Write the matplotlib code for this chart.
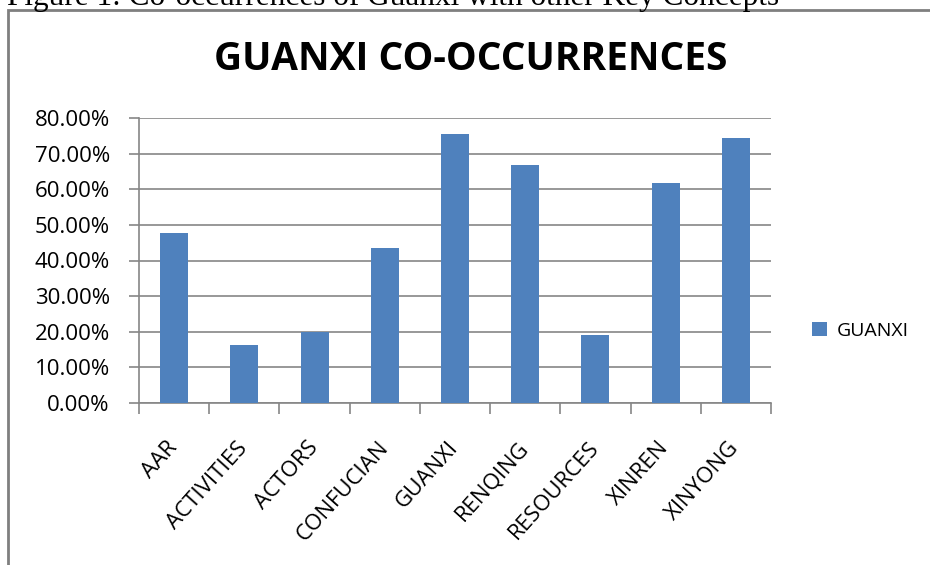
import matplotlib
matplotlib.use("Agg")
import matplotlib.pyplot as plt
from matplotlib.patches import Rectangle
from matplotlib.transforms import ScaledTranslation
import numpy as np

categories = ["AAR", "ACTIVITIES", "ACTORS", "CONFUCIAN", "GUANXI",
              "RENQING", "RESOURCES", "XINREN", "XINYONG"]
values = [0.478, 0.163, 0.198, 0.435, 0.755, 0.668, 0.191, 0.618, 0.744]
series_name = "GUANXI"
y_ticks = [0.0, 0.1, 0.2, 0.3, 0.4, 0.5, 0.6, 0.7, 0.8]

bar_color = "#4F81BD"
grid_color = "#868686"
font = "Open Sans"

fig = plt.figure(figsize=(9.3, 5.65), dpi=100)

# caption of the page, cropped by the top edge like in the source
fig.text(0.008, 1 - 5 / 565, "Figure 1: Co-occurrences of Guanxi with other Key Concepts",
         family="Liberation Serif", fontsize=22.5, va="baseline", ha="left")

# chart border (runs off the right and bottom of the image)
fig.patches.append(Rectangle((8 / 930, -0.1), 1.2, 1 - 10 / 565 + 0.1,
                             transform=fig.transFigure, fill=False,
                             edgecolor="#7f7f7f", linewidth=2))

ax = fig.add_axes([139 / 930, 1 - 403 / 565, (771 - 139) / 930, (403 - 118) / 565])
x = np.arange(len(categories))
ax.bar(x, values, width=0.4, color=bar_color, label=series_name, zorder=3)

ax.set_xlim(-0.5, len(categories) - 0.5)
ax.set_ylim(0, 0.8)
ax.set_yticks(y_ticks)
ax.set_yticklabels([f"{v * 100:.2f}%" for v in y_ticks], family=font, fontsize=16)
ax.yaxis.grid(True, color=grid_color, linewidth=1.2, zorder=0)
ax.tick_params(axis="y", length=7, color=grid_color, width=1.2, pad=14)

ax.set_xticks(x)
ax.set_xticklabels(categories, family=font, fontsize=16, rotation=48,
                   ha="right", va="center", rotation_mode="anchor")
shift = ScaledTranslation(-12 / 100, 0, fig.dpi_scale_trans)
for lbl in ax.get_xticklabels():
    lbl.set_transform(lbl.get_transform() + shift)
ax.set_xticks(np.arange(len(categories) + 1) - 0.5, minor=True)
ax.tick_params(axis="x", which="major", length=0, pad=30)
ax.tick_params(axis="x", which="minor", length=8, color=grid_color, width=1.2)

for side in ["top", "right"]:
    ax.spines[side].set_visible(False)
for side in ["left", "bottom"]:
    ax.spines[side].set_color(grid_color)
    ax.spines[side].set_linewidth(1.2)

fig.text(471 / 930, 1 - 60 / 565, "GUANXI CO-OCCURRENCES", family=font,
         fontweight="bold", fontsize=28, ha="center", va="center")

fig.legend(loc="center left", bbox_to_anchor=(812 / 930, 1 - 331 / 565),
           frameon=False, prop={"family": font, "size": 14},
           handlelength=0.75, handleheight=0.75, handletextpad=0.5,
           borderpad=0, borderaxespad=0)

fig.savefig("out.png", dpi=100)
